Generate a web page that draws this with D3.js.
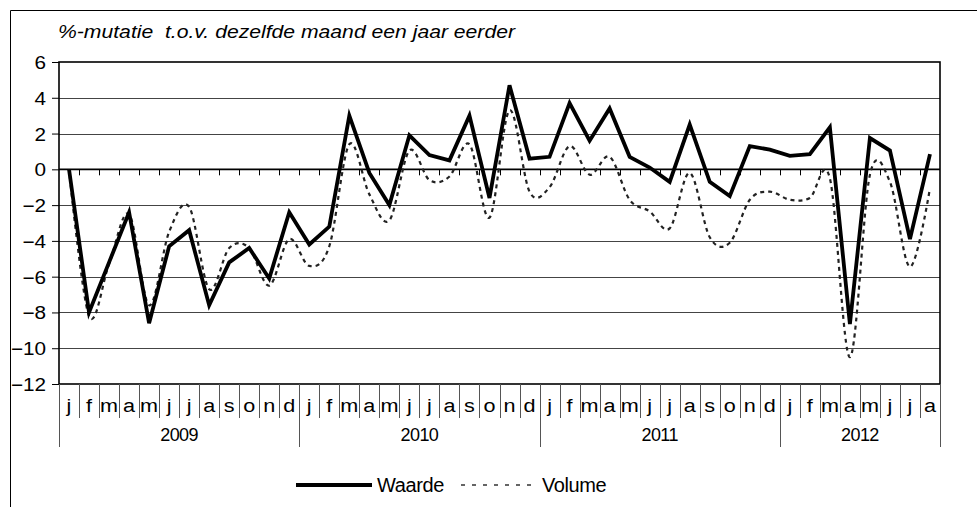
<!DOCTYPE html>
<html lang="nl">
<head>
  <meta charset="UTF-8">
  <title>%-mutatie t.o.v. dezelfde maand een jaar eerder</title>
  <script src="https://d3js.org/d3.v7.min.js"></script>
  <style>
    body { margin: 0; background: #fff; }
    svg { font-family: "Liberation Sans", Arial, sans-serif; }
    .title { font-size: 18px; font-style: italic; white-space: pre; }
    .ytick { font-size: 18px; text-anchor: end; }
    .month { font-size: 18px; text-anchor: middle; }
    .year { font-size: 18px; text-anchor: middle; letter-spacing: -0.6px; }
    .legend { font-size: 20px; letter-spacing: -0.4px; }
  </style>
</head>
<body>
  <div id="chart"></div>

  <script>
    const width = 977;
    const height = 507;

    // months per year shown on the category axis
    const years = ["2009", "2010", "2011", "2012"];
    const yearMonths = [12, 12, 12, 8];
    const monthLetters = ["j", "f", "m", "a", "m", "j", "j", "a", "s", "o", "n", "d"];

    const waarde = [
      0, -8.0, -5.2, -2.4, -8.6, -4.3, -3.4, -7.6, -5.2, -4.4, -6.1, -2.4,
      -4.2, -3.2, 3.0, -0.2, -2.0, 1.9, 0.8, 0.5, 3.0, -1.6, 4.7, 0.6,
      0.7, 3.7, 1.6, 3.4, 0.7, 0.1, -0.7, 2.5, -0.7, -1.5, 1.3, 1.1,
      0.75, 0.85, 2.35, -8.65, 1.75, 1.05, -3.9, 0.85
    ];
    const volume = [
      0, -8.2, -5.3, -2.5, -7.6, -3.5, -2.1, -6.7, -4.4, -4.4, -6.5, -3.9,
      -5.4, -4.3, 1.4, -1.4, -2.85, 1.05, -0.6, -0.4, 1.4, -2.7, 3.3, -1.25,
      -1.0, 1.3, -0.3, 0.7, -1.7, -2.35, -3.3, -0.2, -3.8, -4.1, -1.7, -1.25,
      -1.7, -1.6, -0.5, -10.5, -0.3, -0.7, -5.45, -1.05
    ];
    const yTicks = [-12, -10, -8, -6, -4, -2, 0, 2, 4, 6];

    const months = [];
    yearMonths.forEach(n => {
      for (let m = 0; m < n; m++) months.push(monthLetters[m]);
    });

    const plot = { left: 59, right: 940, top: 62, bottom: 384 };

    // the source chart's text is drawn a bit wider than the font's natural width
    function stretch(sel, factor) {
      sel.each(function () {
        const w = this.getComputedTextLength();
        d3.select(this)
          .attr("textLength", w * factor)
          .attr("lengthAdjust", "spacingAndGlyphs");
      });
    }

    const svg = d3.select("#chart")
      .append("svg")
      .attr("width", width)
      .attr("height", height);

    const x = d3.scaleBand()
      .domain(d3.range(months.length))
      .range([plot.left, plot.right]);

    const y = d3.scaleLinear()
      .domain([-12, 6])
      .range([plot.bottom, plot.top]);

    // outer frame (left and top only, as in the source)
    svg.append("path")
      .attr("d", `M10.5,${height} V10.5 H${width}`)
      .attr("fill", "none")
      .attr("stroke", "#000");

    svg.append("text")
      .attr("class", "title")
      .attr("x", 58)
      .attr("y", 38)
      .text("%-mutatie  t.o.v. dezelfde maand een jaar eerder")
      .attr("textLength", 457)
      .attr("lengthAdjust", "spacingAndGlyphs");

    // horizontal grid
    svg.append("g")
      .selectAll("line")
      .data(yTicks.filter(d => d > -12 && d < 6 && d !== 0))
      .enter()
      .append("line")
      .attr("x1", plot.left)
      .attr("x2", plot.right)
      .attr("y1", d => Math.round(y(d)) + 0.5)
      .attr("y2", d => Math.round(y(d)) + 0.5)
      .attr("stroke", "#444");

    // y axis
    const yAxis = d3.axisLeft(y)
      .tickValues(yTicks)
      .tickSize(7)
      .tickPadding(6)
      .tickFormat(d3.format("d"));

    const gy = svg.append("g")
      .attr("transform", `translate(${plot.left},0)`)
      .call(yAxis);
    gy.select(".domain").remove();
    gy.selectAll(".tick line").attr("stroke", "#000");
    gy.selectAll(".tick text")
      .attr("class", "ytick")
      .attr("font-family", null)
      .attr("font-size", null)
      .attr("dy", "0.36em")
      .attr("fill", "#000")
      .call(stretch, 1.15);

    // plot frame
    svg.append("rect")
      .attr("x", plot.left)
      .attr("y", plot.top)
      .attr("width", plot.right - plot.left)
      .attr("height", plot.bottom - plot.top)
      .attr("fill", "none")
      .attr("stroke", "#000")
      .attr("stroke-width", 1.6);

    // zero line with category ticks
    svg.append("line")
      .attr("x1", plot.left)
      .attr("x2", plot.right)
      .attr("y1", y(0))
      .attr("y2", y(0))
      .attr("stroke", "#000")
      .attr("stroke-width", 1.6);

    const bounds = d3.range(months.length + 1).map(i => plot.left + i * x.bandwidth());

    svg.append("g")
      .selectAll("line")
      .data(bounds.slice(1, -1))
      .enter()
      .append("line")
      .attr("x1", d => Math.round(d) + 0.5)
      .attr("x2", d => Math.round(d) + 0.5)
      .attr("y1", y(0))
      .attr("y2", y(0) + 6)
      .attr("stroke", "#000");

    // category separators and month labels
    svg.append("g")
      .selectAll("line")
      .data(bounds)
      .enter()
      .append("line")
      .attr("x1", d => Math.round(d) + 0.5)
      .attr("x2", d => Math.round(d) + 0.5)
      .attr("y1", plot.bottom)
      .attr("y2", plot.bottom + 34)
      .attr("stroke", "#555");

    svg.append("g")
      .selectAll("text")
      .data(months)
      .enter()
      .append("text")
      .attr("class", "month")
      .attr("x", (d, i) => x(i) + x.bandwidth() / 2)
      .attr("y", 412)
      .text(d => d)
      .call(stretch, 1.2);

    // year groups
    let start = 0;
    const groups = years.map((yr, i) => {
      const g = { label: yr, from: start, to: start + yearMonths[i] };
      start += yearMonths[i];
      return g;
    });

    svg.append("g")
      .selectAll("line")
      .data([groups[0].from].concat(groups.map(g => g.to)))
      .enter()
      .append("line")
      .attr("x1", d => Math.round(bounds[d]) + 0.5)
      .attr("x2", d => Math.round(bounds[d]) + 0.5)
      .attr("y1", plot.bottom + 34)
      .attr("y2", plot.bottom + 63)
      .attr("stroke", "#555");

    svg.append("g")
      .selectAll("text")
      .data(groups)
      .enter()
      .append("text")
      .attr("class", "year")
      .attr("x", d => (bounds[d.from] + bounds[d.to]) / 2)
      .attr("y", 441)
      .text(d => d.label);

    // series
    const cx = i => x(i) + x.bandwidth() / 2;

    const volumeLine = d3.line()
      .x((d, i) => cx(i))
      .y(d => y(d))
      .curve(d3.curveCardinal.tension(0));

    const waardeLine = d3.line()
      .x((d, i) => cx(i))
      .y(d => y(d));

    svg.append("path")
      .datum(volume)
      .attr("d", volumeLine)
      .attr("fill", "none")
      .attr("stroke", "#222")
      .attr("stroke-width", 2.2)
      .attr("stroke-dasharray", "4,4");

    svg.append("path")
      .datum(waarde)
      .attr("d", waardeLine)
      .attr("fill", "none")
      .attr("stroke", "#000")
      .attr("stroke-width", 3.8)
      .attr("stroke-linejoin", "miter");

    // legend
    const legend = svg.append("g");
    legend.append("line")
      .attr("x1", 296).attr("x2", 372)
      .attr("y1", 485).attr("y2", 485)
      .attr("stroke", "#000")
      .attr("stroke-width", 3.8);
    legend.append("text")
      .attr("class", "legend")
      .attr("x", 377).attr("y", 492)
      .text("Waarde");
    legend.append("line")
      .attr("x1", 461).attr("x2", 537)
      .attr("y1", 485).attr("y2", 485)
      .attr("stroke", "#333")
      .attr("stroke-width", 1.5)
      .attr("stroke-dasharray", "4,7");
    legend.append("text")
      .attr("class", "legend")
      .attr("x", 542).attr("y", 492)
      .text("Volume");
  </script>
</body>
</html>
